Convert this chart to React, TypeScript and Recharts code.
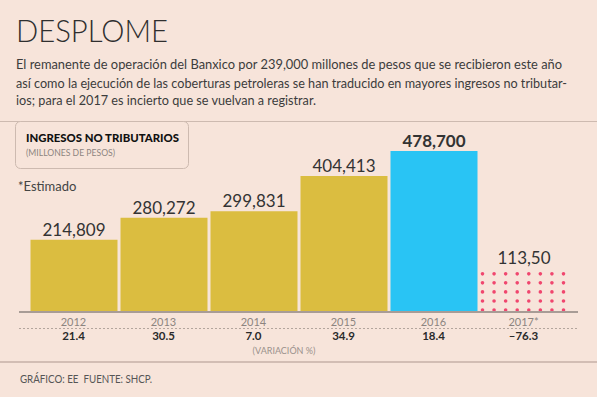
import React from "react";
import { BarChart, Bar, XAxis, YAxis, Cell, LabelList, Rectangle } from "recharts";

const years = ["2012", "2013", "2014", "2015", "2016", "2017*"];
const ingresos = [214809, 280272, 299831, 404413, 478700, 113500];
const valueLabels = ["214,809", "280,272", "299,831", "404,413", "478,700", "113,50"];
const variacion = ["21.4", "30.5", "7.0", "34.9", "18.4", "–76.3"];
const barColors = ["#dbbd40", "#dbbd40", "#dbbd40", "#dbbd40", "#29c4f4", "#f0466e"];
const estimated = [false, false, false, false, false, true];
const highlighted = [false, false, false, false, true, false];

const data = years.map((y, i) => ({ year: y, value: ingresos[i] }));

const BG = "#f7e4da";
const FONT = "Lato, 'Open Sans', sans-serif";

const YearTick = (props: any) => {
  const { x, y, payload, index } = props;
  return (
    <g>
      <text x={x} y={y + 13.5} textAnchor="middle" fontSize={11} fill="#8c8480" fontFamily={FONT}>
        {payload.value}
      </text>
      <text x={x} y={y + 28} textAnchor="middle" fontSize={11.5} fontWeight={700} fill="#2a2a2a" fontFamily={FONT}>
        {variacion[index]}
      </text>
    </g>
  );
};

const BarShape = (props: any) => {
  const { x, y, width, height, index, fill } = props;
  if (estimated[index]) {
    const cols = 8;
    const rows = 5;
    const x0 = x + 2;
    const x1 = x + width - 4;
    const y0 = y;
    const y1 = y + height - 2;
    const dots: any[] = [];
    for (let r = 0; r < rows; r++) {
      for (let c = 0; c < cols; c++) {
        dots.push(
          <circle
            key={r + "-" + c}
            cx={x0 + ((x1 - x0) * c) / (cols - 1)}
            cy={y0 + ((y1 - y0) * r) / (rows - 1)}
            r={1.8}
            fill={fill}
          />
        );
      }
    }
    return <g>{dots}</g>;
  }
  return <Rectangle x={x} y={y} width={width} height={height} fill={fill} />;
};

const ValueLabel = (props: any) => {
  const { x, y, width, index } = props;
  const off = estimated[index] ? 10 : 4;
  return (
    <text
      x={x + width / 2}
      y={y - off}
      textAnchor="middle"
      fontSize={17}
      fontWeight={highlighted[index] ? 700 : 400}
      fill="#333333"
      fontFamily={FONT}
    >
      {valueLabels[index]}
    </text>
  );
};

export default function App() {
  return (
    <div
      style={{
        position: "fixed",
        left: 0,
        top: 0,
        width: 597,
        height: 397,
        background: BG,
        overflow: "hidden",
      }}
    >
      <svg width={597} height={397} style={{ position: "absolute", left: 0, top: 0 }}>
        <text x={16} y={42} fontSize={31} fontWeight={300} fill="#2f2f2f" fontFamily={FONT} textLength={152} lengthAdjust="spacingAndGlyphs">
          DESPLOME
        </text>
        <text x={16} y={69} fontSize={13} fill="#3c3c3c" fontFamily={FONT} textLength={546} lengthAdjust="spacingAndGlyphs">
          El remanente de operación del Banxico por 239,000 millones de pesos que se recibieron este año
        </text>
        <text x={16} y={88} fontSize={13} fill="#3c3c3c" fontFamily={FONT} textLength={551} lengthAdjust="spacingAndGlyphs">
          así como la ejecución de las coberturas petroleras se han traducido en mayores ingresos no tributar-
        </text>
        <text x={16} y={105} fontSize={13} fill="#3c3c3c" fontFamily={FONT} textLength={300} lengthAdjust="spacingAndGlyphs">
          ios; para el 2017 es incierto que se vuelvan a registrar.
        </text>
        <line x1={0} x2={597} y1={121.5} y2={121.5} stroke="#cdbab0" strokeWidth={1} />
        <rect x={15.5} y={121.5} width={173} height={47} rx={5} fill={BG} stroke="#cdbab0" strokeWidth={1} />
        <text x={26} y={141.5} fontSize={10.5} fontWeight={900} fill="#111" fontFamily={FONT} textLength={153} lengthAdjust="spacingAndGlyphs">
          INGRESOS NO TRIBUTARIOS
        </text>
        <text x={26} y={156} fontSize={8.5} fill="#8d8580" fontFamily={FONT} textLength={89} lengthAdjust="spacingAndGlyphs">
          (MILLONES DE PESOS)
        </text>
        <text x={18} y={190.5} fontSize={13} fill="#444" fontFamily={FONT}>
          *Estimado
        </text>
        <line x1={19} x2={578} y1={328.5} y2={328.5} stroke="#b3a59d" strokeWidth={1} strokeDasharray="2 2" />
        <text x={284} y={354} textAnchor="middle" fontSize={9} fill="#9a918c" fontFamily={FONT}>
          (VARIACIÓN %)
        </text>
        <line x1={0} x2={597} y1={362} y2={362} stroke="#c6b1a7" strokeWidth={1.5} />
        <text x={20} y={383} fontSize={11} fill="#555" fontFamily={FONT} textLength={132} lengthAdjust="spacingAndGlyphs">
          {"GRÁFICO: EE\u00A0 FUENTE: SHCP."}
        </text>
      </svg>
      <div style={{ position: "absolute", left: 0, top: 0 }}>
        <BarChart
          width={597}
          height={397}
          data={data}
          margin={{ top: 151, right: 19, bottom: 55, left: 19 }}
        >
          <YAxis hide domain={[0, 478700]} />
          <XAxis
            dataKey="year"
            height={30}
            interval={0}
            tickLine={false}
            tickSize={0}
            tickMargin={0}
            padding={{ left: 9.5, right: 9.5 }}
            axisLine={{ stroke: "#a89c96", strokeWidth: 2 }}
            tick={<YearTick />}
          />
          <Bar dataKey="value" barSize={87} isAnimationActive={false} shape={<BarShape />}>
            {data.map((d, i) => (
              <Cell key={d.year} fill={barColors[i]} />
            ))}
            <LabelList dataKey="value" content={<ValueLabel />} />
          </Bar>
        </BarChart>
      </div>
    </div>
  );
}
